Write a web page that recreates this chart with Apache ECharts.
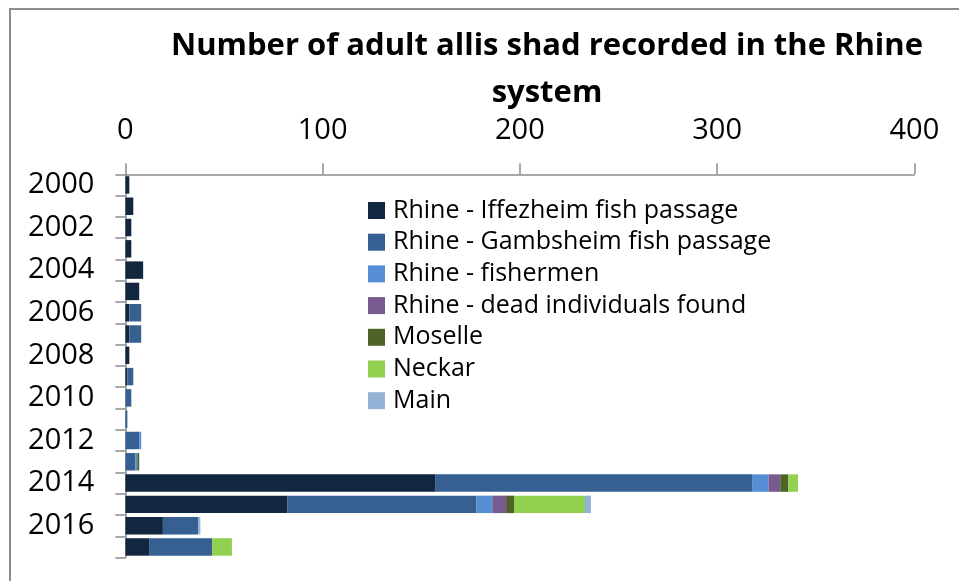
<!DOCTYPE html>
<html>
<head>
<meta charset="utf-8">
<script src="https://cdn.jsdelivr.net/npm/echarts@6/dist/echarts.min.js"></script>
<style>
  html, body { margin: 0; padding: 0; background: #fff; }
  #chart { width: 959px; height: 581px; }
</style>
</head>
<body>
<div id="chart"></div>
<script>
// Years, top to bottom
const years = ['2000','2001','2002','2003','2004','2005','2006','2007','2008',
               '2009','2010','2011','2012','2013','2014','2015','2016','2017'];

// Adult allis shad counts per source and year
const iffezheim = [2, 4, 3, 3, 9, 7, 2, 2, 2, 1, 0, 0, 0, 0, 157, 82, 19, 12];
const gambsheim = [0, 0, 0, 0, 0, 0, 6, 6, 0, 3, 3, 1, 7, 5, 161, 96, 18, 32];
const fishermen = [0, 0, 0, 0, 0, 0, 0, 0, 0, 0, 0, 0, 1, 1, 8, 8, 0, 0];
const deadFound = [0, 0, 0, 0, 0, 0, 0, 0, 0, 0, 0, 0, 0, 0, 6, 7, 0, 0];
const moselle   = [0, 0, 0, 0, 0, 0, 0, 0, 0, 0, 0, 0, 0, 1, 4, 4, 0, 0];
const neckar    = [0, 0, 0, 0, 0, 0, 0, 0, 0, 0, 0, 0, 0, 0, 5, 36, 0, 10];
const main      = [0, 0, 0, 0, 0, 0, 0, 0, 0, 0, 0, 0, 0, 0, 0, 3, 1, 0];

const seriesNames = [
  'Rhine - Iffezheim fish passage',
  'Rhine - Gambsheim fish passage',
  'Rhine - fishermen',
  'Rhine - dead individuals found',
  'Moselle',
  'Neckar',
  'Main'
];
const seriesData = [iffezheim, gambsheim, fishermen, deadFound, moselle, neckar, main];
const seriesColors = ['#13263f', '#376092', '#558ed5', '#775a8f', '#4f6228', '#92d050', '#95b3d7'];

const FONT = '"Open Sans", sans-serif';
const AXIS_GREY = '#8c8c8c';

const chart = echarts.init(document.getElementById('chart'), null, { renderer: 'canvas' });

chart.setOption({
  backgroundColor: '#ffffff',
  animation: false,
  title: {
    text: 'Number of adult allis shad recorded in the Rhine\nsystem',
    left: 542,
    top: 18,
    textAlign: 'center',
    textStyle: {
      fontFamily: FONT,
      fontWeight: 'bold',
      fontSize: 31,
      lineHeight: 47,
      color: '#000'
    }
  },
  graphic: [{
    type: 'rect',
    shape: { x: 10, y: 9, width: 1000, height: 700 },
    style: { fill: 'none', stroke: AXIS_GREY, lineWidth: 2 },
    silent: true,
    z: -1
  }],
  legend: {
    orient: 'vertical',
    left: 368,
    top: 198,
    padding: 0,
    icon: 'rect',
    itemWidth: 17,
    itemHeight: 17,
    itemGap: 6.7,
    data: seriesNames,
    textStyle: {
      fontFamily: FONT,
      fontSize: 25,
      color: '#000',
      padding: [0, 0, 0, 3]
    }
  },
  grid: {
    left: 125.4,
    right: 44.6,
    top: 174.3,
    bottom: 23.4,
    containLabel: false
  },
  xAxis: {
    type: 'value',
    position: 'top',
    min: 0,
    max: 400,
    interval: 100,
    axisLine: { show: true, lineStyle: { color: AXIS_GREY, width: 1.5 } },
    axisTick: { show: true, inside: false, length: 11, lineStyle: { color: AXIS_GREY, width: 1.5 } },
    splitLine: { show: false },
    axisLabel: {
      margin: 29,
      fontFamily: FONT,
      fontSize: 29,
      color: '#000'
    }
  },
  yAxis: {
    type: 'category',
    inverse: true,
    data: years,
    axisLine: { show: true, lineStyle: { color: AXIS_GREY, width: 1.5 } },
    axisTick: { show: true, length: 10, interval: 0, lineStyle: { color: AXIS_GREY, width: 1.5 } },
    axisLabel: {
      interval: 1,
      margin: 31,
      fontFamily: FONT,
      fontSize: 29,
      color: '#000'
    }
  },
  series: seriesNames.map((name, i) => ({
    name: name,
    type: 'bar',
    stack: 'total',
    barCategoryGap: '18%',
    data: seriesData[i],
    itemStyle: { color: seriesColors[i] }
  }))
});
</script>
</body>
</html>
